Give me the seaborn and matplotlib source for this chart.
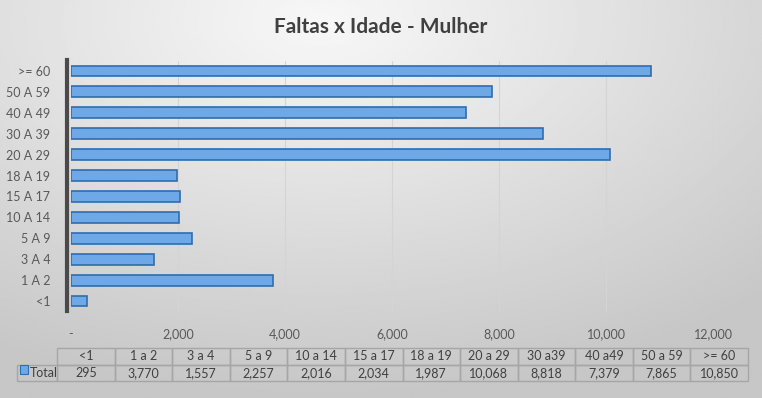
import numpy as np
import pandas as pd
import matplotlib
matplotlib.use('Agg')
import matplotlib.pyplot as plt
import seaborn as sns

faixas = ['<1', '1 A 2', '3 A 4', '5 A 9', '10 A 14', '15 A 17', '18 A 19',
          '20 A 29', '30 A 39', '40 A 49', '50 A 59', '>= 60']
tabela_labels = ['<1', '1 a 2', '3 a 4', '5 a 9', '10 a 14', '15 a 17', '18 a 19',
                 '20 a 29', '30 a39', '40 a49', '50 a 59', '>= 60']
faltas = [295, 3770, 1557, 2257, 2016, 2034, 1987, 10068, 8818, 7379, 7865, 10850]

sns.set_style('white')
plt.rcParams['font.family'] = ['Lato', 'DejaVu Sans']

W, H = 762, 398
fig = plt.figure(figsize=(W / 100, H / 100), dpi=100)

# background gradient
bg = fig.add_axes([0, 0, 1, 1], zorder=-10)
yy, xx = np.mgrid[0:1:200j, 0:1:380j]
d = np.sqrt(((xx - 0.42) * 1.0) ** 2 + ((yy - 0.05) * 0.9) ** 2)
bg.imshow(0.97 - 0.19 * np.clip(d / 0.85, 0, 1), cmap='gray', vmin=0, vmax=1,
          aspect='auto', extent=[0, 1, 0, 1], origin='upper')
bg.axis('off')

df = pd.DataFrame({'faixa': faixas, 'faltas': faltas})
plot_order = faixas[::-1]

ax = fig.add_axes([71 / W, 1 - 311.5 / H, (713 - 71) / W, (311.5 - 60.5) / H])
ax.patch.set_alpha(0)
sns.barplot(data=df, y='faixa', x='faltas', order=plot_order, orient='h',
            color='#6fa8e6', edgecolor='#2e6db0', linewidth=1.2, width=0.52,
            saturation=1, ax=ax)
ax.set_xlim(0, 12000)
ax.set_ylim(11.5, -0.5)
ax.set_xlabel('')
ax.set_ylabel('')
ticks = np.arange(0, 12001, 2000)
ax.set_xticks(ticks)
ax.set_xticklabels(['-'] + [f'{t:,}' for t in ticks[1:]])
for t in ticks[1:]:
    ax.axvline(t, color='#d4d4d4', lw=0.8, zorder=0)
ax.tick_params(axis='x', length=0, pad=12, labelsize=9, labelcolor='#595959')
ax.tick_params(axis='y', length=0, pad=12, labelsize=9, labelcolor='#595959')
for s in ['top', 'right', 'bottom']:
    ax.spines[s].set_visible(False)
ax.spines['left'].set_color('#4a4a4a')
ax.spines['left'].set_linewidth(3)
ax.spines['left'].set_position(('outward', 3))

fig.text(0.5, 1 - 27 / H, 'Faltas x Idade - Mulher', ha='center', va='center',
         fontsize=15, fontweight='bold', color='#404040')

# data table
tax = fig.add_axes([17 / W, 1 - 381 / H, (748 - 17) / W, (381 - 348) / H])
tax.axis('off')
cells = [[''] + tabela_labels, [''] + [f'{v:,}' for v in faltas]]
col_w = [40 / 731] + [(691 / 12) / 731] * 12
tbl = tax.table(cellText=cells, colWidths=col_w, bbox=[0, 0, 1, 1], cellLoc='center')
tbl.auto_set_font_size(False)
for (r, c), cell in tbl.get_celld().items():
    cell.set_fontsize(9)
    cell.set_edgecolor('#a6a6a6')
    cell.set_facecolor('none')
    cell.get_text().set_color('#404040')
    if r == 0 and c == 0:
        cell.visible_edges = ''
tax.add_patch(plt.Rectangle((3 / 731, 0.22), 8 / 731, 0.26, transform=tax.transAxes,
                            facecolor='#6fa8e6', edgecolor='#2e6db0', lw=0.8, clip_on=False))
tax.text(12.5 / 731, 0.25, 'Total', transform=tax.transAxes, ha='left', va='center',
         fontsize=9, color='#404040')

fig.savefig('out.png', dpi=100)
